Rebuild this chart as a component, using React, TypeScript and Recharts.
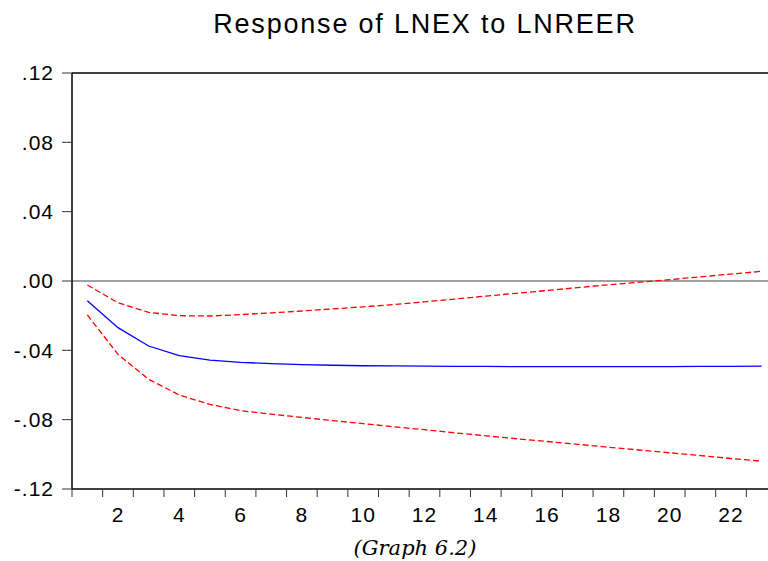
import { LineChart, Line, XAxis, YAxis, ReferenceLine } from "recharts";

// impulse response periods
const periods = [1, 2, 3, 4, 5, 6, 7, 8, 9, 10, 11, 12, 13, 14, 15, 16, 17, 18, 19, 20, 21, 22, 23];

const response = [
  -0.0114, -0.0269, -0.0375, -0.0431, -0.0456, -0.0469, -0.0477, -0.0482,
  -0.0486, -0.0489, -0.049, -0.0491, -0.0492, -0.0493, -0.0494, -0.0494,
  -0.0494, -0.0494, -0.0494, -0.0494, -0.0493, -0.0492, -0.0491,
];

const upperBand = [
  -0.0023, -0.0125, -0.0181, -0.02, -0.0202, -0.0194, -0.0184, -0.0173,
  -0.0161, -0.0149, -0.0136, -0.012, -0.0104, -0.0087, -0.0071, -0.0055,
  -0.0038, -0.0022, -0.0007, 0.0008, 0.0024, 0.004, 0.0056,
];

const lowerBand = [
  -0.0196, -0.0423, -0.0567, -0.0658, -0.0712, -0.0748, -0.0768, -0.0787,
  -0.0805, -0.0823, -0.0841, -0.0858, -0.0876, -0.0893, -0.091, -0.0926,
  -0.0942, -0.0959, -0.0975, -0.0991, -0.1007, -0.1024, -0.104,
];

const yTicks = [-0.12, -0.08, -0.04, 0, 0.04, 0.08, 0.12];
const xLabelTicks = [2, 4, 6, 8, 10, 12, 14, 16, 18, 20, 22];
// tick marks sit between periods, like EViews does
const xMarkTicks = [0.5, ...periods.map((p) => p + 0.5)];

const data = periods.map((p, i) => ({
  step: p,
  response: response[i],
  upper: upperBand[i],
  lower: lowerBand[i],
}));

const fmtY = (v: number) => {
  if (v === 0) return ".00";
  const s = Math.abs(v).toFixed(2).replace(/^0/, "");
  return v < 0 ? `-${s}` : s;
};

const axisFont = {
  fontFamily: "'Liberation Sans', Arial, sans-serif",
  fontSize: 21,
  fill: "#000000",
  letterSpacing: 1,
};

export default function App() {
  return (
    <div
      style={{
        position: "absolute",
        left: 0,
        top: 0,
        width: 768,
        height: 561,
        overflow: "hidden",
        background: "#ffffff",
      }}
    >
      <LineChart
        width={800}
        height={561}
        data={data}
        margin={{ top: 73, right: 23, left: 0, bottom: 31 }}
      >
        <XAxis
          xAxisId='xb'
          dataKey='step'
          type='number'
          domain={[0.5, 23.5]}
          ticks={xLabelTicks}
          height={40}
          tickLine={false}
          axisLine={false}
          tickSize={8}
          tickMargin={9}
          tick={axisFont}
          interval={0}
        />
        <XAxis
          xAxisId='xa'
          dataKey='step'
          type='number'
          domain={[0.5, 23.5]}
          ticks={xMarkTicks}
          height={1}
          tick={{ fontSize: 1, fill: "none" }}
          tickFormatter={() => ""}
          tickSize={8}
          tickLine={{ stroke: "#333333" }}
          axisLine={{ stroke: "#000000", strokeWidth: 1.5 }}
          interval={0}
        />
        <YAxis
          width={72}
          domain={[-0.12, 0.12]}
          ticks={yTicks}
          tickFormatter={fmtY}
          tickSize={10}
          tickMargin={8}
          tick={axisFont}
          tickLine={{ stroke: "#333333" }}
          axisLine={{ stroke: "#000000", strokeWidth: 1.5 }}
          interval={0}
        />
        <ReferenceLine xAxisId='xb' y={0.12} stroke='#000000' strokeWidth={1.5} />
        <ReferenceLine xAxisId='xb' y={0} stroke='#808080' strokeWidth={1.5} />
        <Line
          xAxisId='xb'
          dataKey='upper'
          stroke='#ff0000'
          strokeWidth={1.3}
          strokeDasharray='6 3'
          dot={false}
          type='linear'
          isAnimationActive={false}
        />
        <Line
          xAxisId='xb'
          dataKey='lower'
          stroke='#ff0000'
          strokeWidth={1.3}
          strokeDasharray='6 3'
          dot={false}
          type='linear'
          isAnimationActive={false}
        />
        <Line
          xAxisId='xb'
          dataKey='response'
          stroke='#0000ff'
          strokeWidth={1.3}
          dot={false}
          type='linear'
          isAnimationActive={false}
        />
      </LineChart>
      <svg
        width={768}
        height={561}
        style={{ position: "absolute", left: 0, top: 0, pointerEvents: "none" }}
      >
        <text
          x={425}
          y={33}
          textAnchor='middle'
          fontFamily="'Liberation Sans', Arial, sans-serif"
          fontSize={27}
          letterSpacing={1.8}
          fill='#000000'
        >
          Response of LNEX to LNREER
        </text>
        <text
          x={415}
          y={555}
          textAnchor='middle'
          fontFamily="'DejaVu Serif', serif"
          fontStyle='italic'
          fontSize={21}
          fill='#000000'
        >
          (Graph 6.2)
        </text>
      </svg>
    </div>
  );
}
